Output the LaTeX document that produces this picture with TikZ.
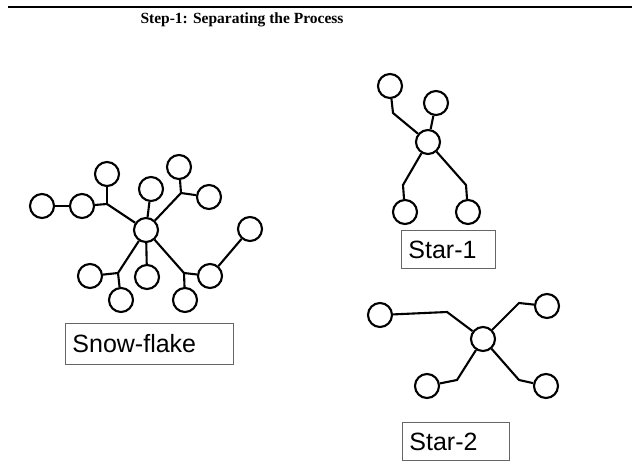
\documentclass[tikz,border=0pt]{standalone}
\usepackage{fontspec}
\setmainfont{Liberation Serif}
\newfontfamily\arialf{Liberation Sans}
\begin{document}
\begin{tikzpicture}[x=1pt,y=-1pt,
  nd/.style={circle,draw=black,line width=2.1pt,minimum size=24pt,inner sep=0pt,fill=white},
  ln/.style={line width=2.1pt,black},
  lbl/.style={draw=black!60,line width=0.9pt,anchor=north west,font=\arialf\fontsize{25}{28}\selectfont,align=left,inner xsep=7pt,inner ysep=0pt}]
\useasboundingbox (0,0) rectangle (632,465);
% header
\coordinate (hl) at (8,7);
\coordinate (hr) at (632,7);
\draw[line width=1.4pt] (hl) -- (hr);
\node[font=\bfseries\fontsize{15.5}{18}\selectfont] (title) at (242,20) {Step-1: Separating the Process};

% Snow-flake
\node[nd] (C) at (146,230) {};
\node[nd] (L1) at (42,206) {};
\node[nd] (L2) at (82,206) {};
\coordinate (J1) at (107,204);
\node[nd] (T1) at (107,174) {};
\node[nd] (T2) at (151,189) {};
\coordinate (J2) at (181,193);
\node[nd] (T3) at (179,167) {};
\node[nd] (T4) at (209,197) {};
\coordinate (J3) at (118,273);
\node[nd] (B1) at (90,276) {};
\node[nd] (B2) at (121,300) {};
\node[nd] (B3) at (147,277) {};
\coordinate (J4) at (184,273);
\node[nd] (B4) at (210,276) {};
\node[nd] (B5) at (185,300) {};
\node[nd] (R) at (250,229) {};
\draw[ln] (L1) -- (L2);
\draw[ln] (L2) -- (J1) -- (C);
\draw[ln] (J1) -- (T1);
\draw[ln] (T2) -- (C);
\draw[ln] (C) -- (J2) -- (T3);
\draw[ln] (J2) -- (T4);
\draw[ln] (C) -- (J3) -- (B1);
\draw[ln] (J3) -- (B2);
\draw[ln] (C) -- (B3);
\draw[ln] (C) -- (J4) -- (B4);
\draw[ln] (J4) -- (B5);
\draw[ln] (B4) -- (R);
\node[lbl,text width=154pt,minimum height=41pt] (snow) at (65,323) {Snow-flake};

% Star-1
\node[nd] (S1) at (428,142) {};
\node[nd] (A) at (390,86) {};
\coordinate (JA) at (393,113);
\node[nd] (Bc) at (436,103) {};
\coordinate (JD) at (403,185);
\node[nd] (D) at (405,212) {};
\coordinate (JE) at (466,185);
\node[nd] (E) at (468,212) {};
\draw[ln] (A) -- (JA) -- (S1);
\draw[ln] (Bc) -- (S1);
\draw[ln] (S1) -- (JD) -- (D);
\draw[ln] (S1) -- (JE) -- (E);
\node[lbl,text width=80pt,minimum height=38pt] (star1) at (401,230) {Star-1};

% Star-2
\node[nd] (S2) at (483,339) {};
\node[nd] (P) at (380,315) {};
\coordinate (JP) at (447,312);
\coordinate (JQ) at (519,303);
\node[nd] (Q) at (547,306) {};
\coordinate (JR) at (457,380);
\node[nd] (Rr) at (427,386) {};
\coordinate (JS) at (519,380);
\node[nd] (Sn) at (546,386) {};
\draw[ln] (P) -- (JP) -- (S2);
\draw[ln] (S2) -- (JQ) -- (Q);
\draw[ln] (S2) -- (JR) -- (Rr);
\draw[ln] (S2) -- (JS) -- (Sn);
\node[lbl,text width=93pt,minimum height=38pt] (star2) at (402,422) {Star-2};
\end{tikzpicture}
\end{document}
